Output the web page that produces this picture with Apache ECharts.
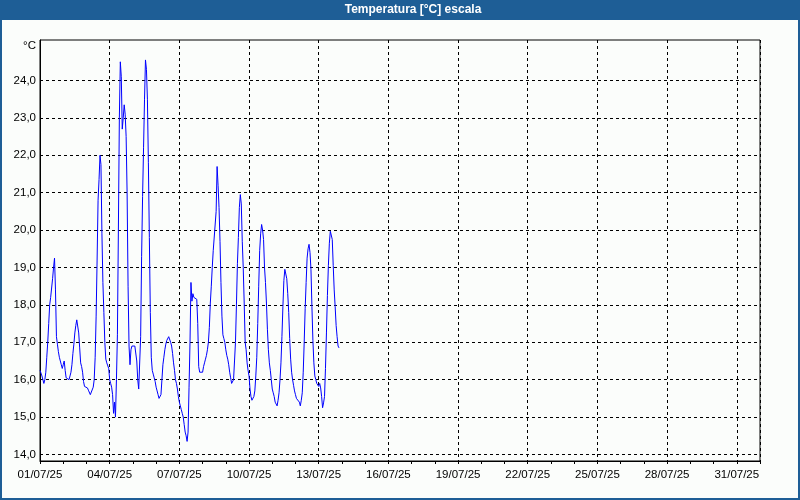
<!DOCTYPE html>
<html><head><meta charset="utf-8">
<script src="https://cdn.jsdelivr.net/npm/echarts@6/dist/echarts.min.js"></script>
<style>html,body{margin:0;padding:0;background:#fbfdfb}#c{width:800px;height:500px}</style>
</head><body><div id="c"></div>
<script>
const chartTitle = 'Temperatura [°C] escala';
const unitLabel = '°C';
// x tick labels (every 3 days, hours since 01/07/25 00:00 = index * 72)
const xTickLabels = ['01/07/25','04/07/25','07/07/25','10/07/25','13/07/25','16/07/25','19/07/25','22/07/25','25/07/25','28/07/25','31/07/25'];
const yTickValues = [14,15,16,17,18,19,20,21,22,23,24];
const yTickLabels = ['14,0','15,0','16,0','17,0','18,0','19,0','20,0','21,0','22,0','23,0','24,0'];
// hourly temperatures starting 01/07/25 00:00
const temperatures = [
16.25,16.2,16.1,16.05,15.9,16.0,16.2,16.6,17.0,17.5,
18.0,18.2,18.15,18.7,19.0,19.25,18.4,17.15,16.95,16.75,
16.6,16.5,16.4,16.3,16.4,16.5,16.25,16.05,16.05,16.05,
16.0,16.1,16.2,16.4,16.7,16.95,17.25,17.45,17.6,17.55,
17.25,16.85,16.45,16.35,16.2,15.95,15.82,15.8,15.8,15.78,
15.72,15.68,15.6,15.55,15.65,15.8,16.0,16.6,17.7,19.2,
20.8,21.35,22.0,21.75,19.9,18.6,17.8,17.0,16.55,16.45,
16.4,16.3,16.0,15.9,15.8,15.6,15.1,15.4,15.0,16.0,
17.2,20.0,23.0,24.5,24.1,22.7,23.0,23.35,23.1,22.5,
21.0,18.5,16.9,16.4,16.8,16.9,16.9,16.9,16.9,16.9,
16.5,16.0,15.75,15.8,17.15,19.3,20.9,22.2,23.5,24.55,
24.3,23.5,21.8,19.8,17.8,16.6,16.25,16.15,16.05,15.95,
15.8,15.7,15.6,15.5,15.45,15.6,16.0,16.4,16.6,16.8,
16.95,17.05,17.1,17.15,17.1,17.0,16.9,16.7,16.45,16.25,
16.0,15.9,15.75,15.55,15.4,15.3,15.2,15.1,15.0,14.8,
14.6,14.5,14.35,14.6,15.8,17.0,18.6,18.1,18.3,18.2,
18.2,18.2,18.15,17.5,16.35,16.2,16.2,16.2,16.2,16.35,
16.45,16.55,16.65,16.8,17.0,17.4,18.05,18.5,19.0,19.45,
19.5,19.4,20.5,21.7,21.2,20.6,19.7,18.6,17.7,17.2,
17.1,17.0,16.8,16.65,16.55,16.4,16.2,16.05,15.9,15.85,
16.0,16.5,17.0,18.0,19.1,19.8,20.6,20.95,20.7,19.7,
19.0,18.05,17.0,16.8,16.45,16.25,16.1,15.75,15.55,15.45,
15.5,15.55,15.7,16.1,16.6,17.5,18.5,19.45,19.9,20.15,
20.0,19.75,19.0,18.6,18.05,17.35,16.8,16.45,16.25,16.0,
15.75,15.65,15.55,15.4,15.35,15.3,15.45,15.65,16.0,16.45,
17.15,17.95,18.65,18.95,18.95,18.7,18.3,17.8,17.1,16.55,
16.2,16.0,15.85,15.7,15.6,15.5,15.45,15.5,15.4,15.3,
15.45,15.65,16.2,17.0,17.9,18.6,19.25,19.5,19.62,19.4,
18.95,17.95,17.05,16.45,16.1,16.0,15.9,15.95,15.82,15.9,
15.78,15.55,15.25,15.38,15.55,16.3,17.25,18.25,19.05,19.65,
19.97,19.95,19.75,19.05,18.4,17.95,17.45,17.15,16.9,16.85
];

const FONT = 'Liberation Sans';
const chart = echarts.init(document.getElementById('c'), null, {renderer: 'canvas'});
const gridStyle = {show: true, lineStyle: {color: '#000', width: 1, type: [3, 3]}};
chart.setOption({
  animation: false,
  backgroundColor: '#fbfdfb',
  grid: {left: 40, right: 40, top: 40, bottom: 39, show: true, borderColor: '#000', borderWidth: 1, backgroundColor: 'transparent', outerBoundsMode: 'none'},
  xAxis: {
    type: 'value', min: 0, max: 744, interval: 72,
    axisLine: {show: true, lineStyle: {color: '#000', width: 1}},
    axisTick: {show: true, inside: false, length: 3, lineStyle: {color: '#000', width: 1}},
    minorTick: {show: true, splitNumber: 3, length: 3, lineStyle: {color: '#000', width: 1}},
    axisLabel: {show: true, color: '#000', fontFamily: FONT, fontSize: 11.5, margin: 8, showMaxLabel: false,
      formatter: v => { const i = Math.round(v / 72); return (v % 72 === 0 && xTickLabels[i]) ? xTickLabels[i] : ''; }},
    splitLine: gridStyle
  },
  yAxis: {
    type: 'value', min: 13.826, max: 25.083,
    axisLine: {show: true, lineStyle: {color: '#000', width: 1}},
    axisTick: {show: false, customValues: yTickValues},
    axisLabel: {show: true, color: '#000', fontFamily: FONT, fontSize: 11.5, margin: 4, customValues: yTickValues,
      formatter: v => { const i = yTickValues.indexOf(Math.round(v)); return i >= 0 ? yTickLabels[i] : ''; }},
    splitLine: gridStyle
  },
  series: [{
    type: 'line',
    data: temperatures.map((v, i) => [i, v]),
    showSymbol: false, symbol: 'none',
    lineStyle: {color: '#0000ff', width: 1},
    itemStyle: {color: '#0000ff'},
    emphasis: {disabled: true}
  }],
  graphic: [
    {type: 'rect', shape: {x: 0, y: 0, width: 800, height: 20}, style: {fill: '#1e5e96'}, z: 10},
    {type: 'rect', shape: {x: 1, y: 0, width: 798, height: 499}, style: {fill: 'none', stroke: '#1e5e96', lineWidth: 2}, z: 10},
    {type: 'text', x: 413, y: 10, style: {text: chartTitle, fill: '#fff', font: 'bold 12px "Liberation Sans"', textAlign: 'center', textVerticalAlign: 'middle'}, z: 11},
    {type: 'text', x: 36, y: 46, style: {text: unitLabel, fill: '#000', font: '11.5px "Liberation Sans"', textAlign: 'right', textVerticalAlign: 'middle'}, z: 11}
  ]
});
</script></body></html>
